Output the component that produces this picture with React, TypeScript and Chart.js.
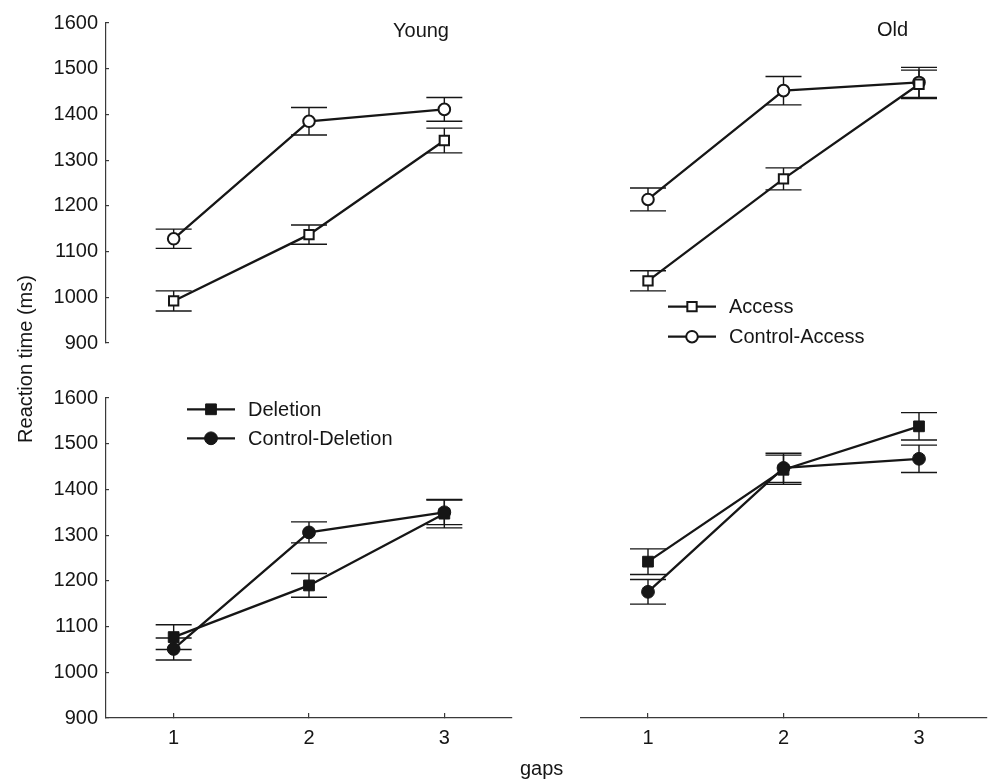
import React, { useEffect, useRef } from 'react';
import { Chart, registerables } from 'chart.js';

Chart.register(...registerables);

const FONT = '"Liberation Sans", Arial, Helvetica, sans-serif';
const INK = '#161616';
const AXIS = '#3a3a3a';

// ---- data ----
const gaps = [1, 2, 3];
const yTickValues = [900, 1000, 1100, 1200, 1300, 1400, 1500, 1600];

const youngAccess = [992, 1137, 1343];
const youngAccessErr = [22, 21, 27];
const youngControlAccess = [1128, 1385, 1411];
const youngControlAccessErr = [21, 30, 26];

const oldAccess = [1036, 1259, 1466];
const oldAccessErr = [22, 24, 31];
const oldControlAccess = [1214, 1452, 1470];
const oldControlAccessErr = [25, 31, 33];

const youngDeletion = [1077, 1190, 1347];
const youngDeletionErr = [27, 26, 31];
const youngControlDeletion = [1051, 1306, 1350];
const youngControlDeletionErr = [24, 23, 27];

const oldDeletion = [1242, 1443, 1538];
const oldDeletionErr = [28, 32, 30];
const oldControlDeletion = [1176, 1447, 1467];
const oldControlDeletionErr = [27, 32, 30];

const seriesLabels = ['Access', 'Control-Access', 'Deletion', 'Control-Deletion'];

// ---- plugins ----
const errorBars = {
  id: 'errorBars',
  beforeDatasetsDraw(chart: any) {
    const ctx = chart.ctx;
    const xs = chart.scales.x;
    const ys = chart.scales.y;
    ctx.save();
    ctx.strokeStyle = INK;
    ctx.lineWidth = 1.4;
    chart.data.datasets.forEach((ds: any) => {
      ds.data.forEach((p: any, i: number) => {
        const e = ds.errors[i];
        const px = xs.getPixelForValue(p.x);
        const t = ys.getPixelForValue(p.y + e);
        const b = ys.getPixelForValue(p.y - e);
        const hw = 18;
        ctx.beginPath();
        ctx.moveTo(px, t);
        ctx.lineTo(px, b);
        ctx.moveTo(px - hw, t);
        ctx.lineTo(px + hw, t);
        ctx.moveTo(px - hw, b);
        ctx.lineTo(px + hw, b);
        ctx.stroke();
      });
    });
    ctx.restore();
  },
};

function drawMarker(ctx: CanvasRenderingContext2D, ds: any, x: number, y: number) {
  const r = ds.pointRadius;
  ctx.beginPath();
  if (ds.pointStyle === 'rect') {
    const s = Math.SQRT1_2 * r;
    ctx.rect(x - s, y - s, 2 * s, 2 * s);
  } else {
    ctx.arc(x, y, r, 0, Math.PI * 2);
  }
  ctx.fillStyle = ds.pointBackgroundColor;
  ctx.fill();
  ctx.lineWidth = ds.pointBorderWidth;
  ctx.strokeStyle = ds.pointBorderColor;
  ctx.stroke();
}

const lineLegend = {
  id: 'lineLegend',
  afterDraw(chart: any, _args: any, opts: any) {
    if (!opts || !opts.show) return;
    const ctx = chart.ctx;
    ctx.save();
    chart.data.datasets.forEach((ds: any, i: number) => {
      const y = opts.y + i * opts.dy;
      ctx.beginPath();
      ctx.strokeStyle = ds.borderColor;
      ctx.lineWidth = ds.borderWidth;
      ctx.moveTo(opts.x, y);
      ctx.lineTo(opts.x + opts.len, y);
      ctx.stroke();
      drawMarker(ctx, ds, opts.x + opts.len / 2, y);
      ctx.fillStyle = INK;
      ctx.font = `20px ${FONT}`;
      ctx.textBaseline = 'middle';
      ctx.textAlign = 'left';
      ctx.fillText(ds.label, opts.textX, y + 1);
    });
    ctx.restore();
  },
};

// ---- panel configuration ----
type Series = { label: string; values: number[]; errors: number[]; style: 'rect' | 'circle'; filled: boolean };
type PanelCfg = {
  left: number;
  top: number;
  width: number;
  height: number;
  padding: { left: number; top: number; right: number; bottom: number };
  showY: boolean;
  showX: boolean;
  series: Series[];
  legend: any;
};

function makeDataset(s: Series) {
  const radius = s.style === 'rect' ? (s.filled ? 7.6 : 6.6) : s.filled ? 6.4 : 5.8;
  return {
    label: s.label,
    data: gaps.map((g, i) => ({ x: g, y: s.values[i] })),
    errors: s.errors,
    borderColor: INK,
    borderWidth: 2.3,
    pointStyle: s.style,
    pointRadius: radius,
    pointBorderWidth: s.filled ? 1 : 2,
    pointBorderColor: INK,
    pointBackgroundColor: s.filled ? INK : '#ffffff',
    tension: 0,
    clip: false as any,
  };
}

function buildConfig(cfg: PanelCfg): any {
  return {
    type: 'line',
    data: { datasets: cfg.series.map(makeDataset) },
    options: {
      animation: false,
      responsive: false,
      devicePixelRatio: 1,
      layout: { padding: cfg.padding, autoPadding: false },
      plugins: {
        legend: { display: false },
        tooltip: { enabled: false },
        lineLegend: cfg.legend,
      },
      scales: {
        x: {
          type: 'linear',
          min: 0.5,
          max: 3.5,
          display: cfg.showX,
          afterBuildTicks: (s: any) => {
            s.ticks = gaps.map((v) => ({ value: v }));
          },
          afterFit: (s: any) => {
            s.height = cfg.showX ? 62 : 0;
          },
          grid: { drawOnChartArea: false, drawTicks: true, tickLength: -5, color: AXIS, lineWidth: 1.2 },
          border: { display: true, color: AXIS, width: 1.2 },
          ticks: {
            padding: 13,
            color: INK,
            font: { size: 20, family: FONT },
            maxRotation: 0,
            autoSkip: false,
            callback: (v: any) => String(v),
          },
        },
        y: {
          type: 'linear',
          min: 900,
          max: 1600,
          display: cfg.showY,
          afterBuildTicks: (s: any) => {
            s.ticks = yTickValues.map((v) => ({ value: v }));
          },
          afterFit: (s: any) => {
            s.width = cfg.showY ? 106 : 0;
          },
          grid: { drawOnChartArea: false, drawTicks: true, tickLength: -3, color: AXIS, lineWidth: 1.2 },
          border: { display: true, color: AXIS, width: 1.2 },
          ticks: {
            padding: 11,
            color: INK,
            font: { size: 20, family: FONT },
            autoSkip: false,
            callback: (v: any) => String(v),
          },
        },
      },
    },
    plugins: [errorBars, lineLegend],
  };
}

// top panels: canvas 366 tall, plot area 23..343 (the y labels reserve 23px below)
const panels: PanelCfg[] = [
  {
    left: 0, top: 0, width: 520, height: 366,
    padding: { left: 0, top: 23, right: 8, bottom: 23 },
    showY: true, showX: false,
    series: [
      { label: seriesLabels[0], values: youngAccess, errors: youngAccessErr, style: 'rect', filled: false },
      { label: seriesLabels[1], values: youngControlAccess, errors: youngControlAccessErr, style: 'circle', filled: false },
    ],
    legend: false,
  },
  {
    left: 520, top: 0, width: 470, height: 366,
    padding: { left: 60.25, top: 23, right: 3.25, bottom: 23 },
    showY: false, showX: false,
    series: [
      { label: seriesLabels[0], values: oldAccess, errors: oldAccessErr, style: 'rect', filled: false },
      { label: seriesLabels[1], values: oldControlAccess, errors: oldControlAccessErr, style: 'circle', filled: false },
    ],
    legend: { show: true, x: 148, y: 306.7, dy: 30, len: 48, textX: 209 },
  },
  {
    left: 0, top: 360, width: 520, height: 420,
    padding: { left: 0, top: 38, right: 8, bottom: 0 },
    showY: true, showX: true,
    series: [
      { label: seriesLabels[2], values: youngDeletion, errors: youngDeletionErr, style: 'rect', filled: true },
      { label: seriesLabels[3], values: youngControlDeletion, errors: youngControlDeletionErr, style: 'circle', filled: true },
    ],
    legend: { show: true, x: 187, y: 49.3, dy: 29, len: 48, textX: 248 },
  },
  {
    left: 520, top: 360, width: 470, height: 420,
    padding: { left: 60.25, top: 38, right: 3.25, bottom: 0 },
    showY: false, showX: true,
    series: [
      { label: seriesLabels[2], values: oldDeletion, errors: oldDeletionErr, style: 'rect', filled: true },
      { label: seriesLabels[3], values: oldControlDeletion, errors: oldControlDeletionErr, style: 'circle', filled: true },
    ],
    legend: false,
  },
];

function Panel({ cfg }: { cfg: PanelCfg }) {
  const ref = useRef<HTMLCanvasElement>(null);
  useEffect(() => {
    const chart = new Chart(ref.current as HTMLCanvasElement, buildConfig(cfg));
    return () => chart.destroy();
  }, [cfg]);
  return (
    <canvas
      ref={ref}
      width={cfg.width}
      height={cfg.height}
      style={{ position: 'absolute', left: cfg.left, top: cfg.top, width: cfg.width, height: cfg.height }}
    />
  );
}

const textStyle: React.CSSProperties = {
  position: 'absolute',
  fontFamily: FONT,
  fontSize: 20,
  lineHeight: '24px',
  color: INK,
  whiteSpace: 'nowrap',
};

export default function App() {
  useEffect(() => {
    document.body.style.margin = '0';
  }, []);
  return (
    <div style={{ position: 'absolute', left: 0, top: 0, width: 990, height: 780, background: '#fff', overflow: 'hidden' }}>
      {panels.map((p, i) => (
        <Panel key={i} cfg={p} />
      ))}
      <div style={{ ...textStyle, left: 393, top: 18 }}>Young</div>
      <div style={{ ...textStyle, left: 877, top: 17 }}>Old</div>
      <div style={{ ...textStyle, left: 520, top: 756 }}>gaps</div>
      <div
        style={{
          ...textStyle,
          left: 24.75 - 150,
          top: 347,
          width: 300,
          height: 24,
          textAlign: 'center',
          transform: 'rotate(-90deg)',
        }}
      >
        Reaction time (ms)
      </div>
    </div>
  );
}
